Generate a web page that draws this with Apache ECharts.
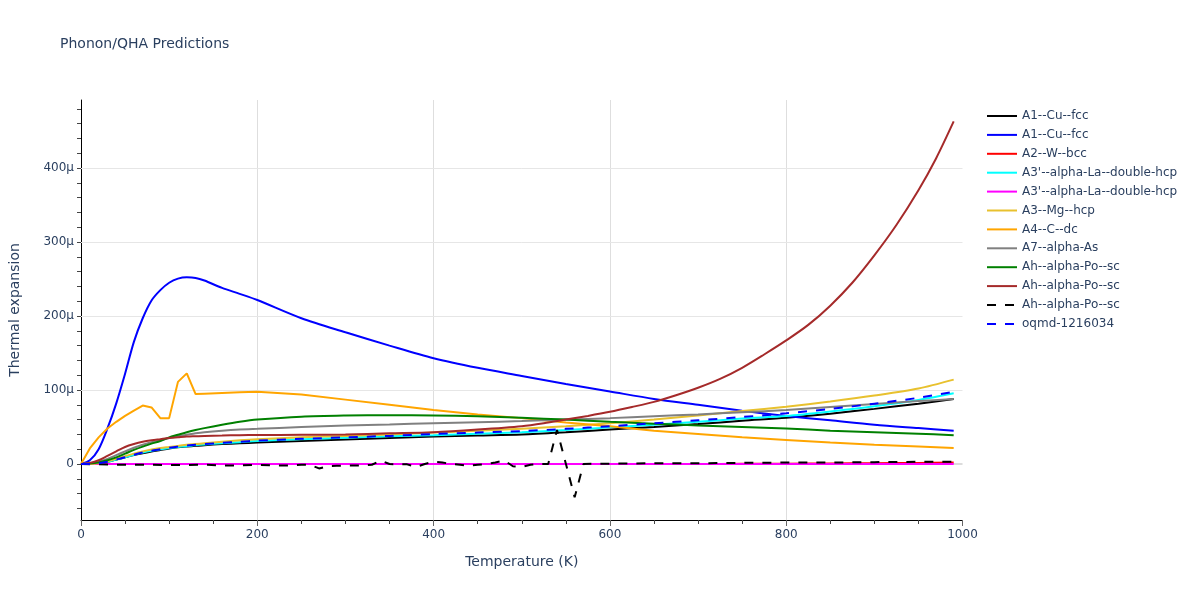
<!DOCTYPE html>
<html>
<head>
<meta charset="utf-8">
<script src="https://cdn.jsdelivr.net/npm/echarts@6/dist/echarts.min.js"></script>
<style>html,body{margin:0;padding:0;background:#fff}#c{width:1200px;height:600px}</style>
</head>
<body>
<div id="c"></div>
<script>
// Temperatures (K) shared by the smooth series
var T = [0,10,20,30,40,50,60,70,80,90,100,110,120,130,140,160,180,200,250,300,350,400,450,500,550,600,650,700,750,800,850,900,950,990];

// Thermal expansion values, in micro units (1e-6)
var cuFccBlack = [0,0,1,3,6,9,12,14.5,17,19,21,22.5,23.5,24.5,25.5,27,28,29,31,33,35,37,38.5,40,43,46.5,50,54,58.5,62.5,68,74.5,81.5,88];
var cuFccBlue  = [0,5,20,48,82,122,165,197,221,235,245,250.5,252.3,251.5,248,238,230,221.6,197,178,160,143,130,119,108,98,88,80,72,65,59,53,48.5,45];
var wBcc       = [0,0,0,0,0,0,0,0,0,0,0,0,0,0,0,0,0,0,0,0,0,0,0,0,0,0,0,0,0.3,0.5,0.8,1.1,1.5,1.9];
var laCyan     = [0,0,1,3,6,9,12.5,15.5,18,20,21.5,23,24,25.5,26.5,28,29.5,31,33.5,35.5,37.5,39,41,43,46,49.5,53,57,61.5,65,71,78,86.5,95.5];
var laMagenta  = [0,0,0,0,0,0,0,0,0,0,0,0,0,0,0,0,0,0,0,0,0,0,0,0,0,0,0,0,0,0,0,0,0,0];
var mgHcp      = [0,0,1,3.5,7,10.5,14,17,19.5,21.5,23,24.5,26,27,28,30,32,33.5,36,38,40,42.5,45,47.5,51,55,60,65.5,71.5,77.5,84.5,92.5,102,114];
var cDc        = [0,21,36,48,57,65,72,79,76.5,62,62,111,122.5,94.5,95,96,97,97.7,94,87,80,73,67,62,56,51,45,40.5,36,32.5,29,26,23.5,21.5];
var asGray     = [0,1,3,7,12,17,22,26,29.5,32,35,37.5,39.5,41.5,43,45,46.5,47.5,50,52,53.5,55,56.5,58,60,62,64.5,67,70,73,77,81,85,88];
var poGreen    = [0,0.5,2,5,9,14,19,23.5,27.5,31,36,39.5,43,46,48.5,53,57,60,64,65.5,66,65.5,64.5,62.5,60,57,54.5,52,50,48,45,43,41,39];
var oqmd       = [0,0,1,3,6,9,12.5,15.5,18,20,22,23.5,25,26,27,28.5,30,31.5,34,36,38,40.5,42.5,44.5,47.5,51,55,59,63.5,68.5,74.5,81.5,89.5,97.5];

// Brown series: finer temperature grid at high T
var Tbrown  = [0,10,20,30,40,50,60,70,80,90,100,110,120,130,140,160,180,200,250,300,350,400,450,500,525,550,575,600,625,650,675,700,725,750,775,800,825,850,875,900,925,950,970,990];
var poBrown = [0,1.5,5,11,17,23,27,30,32,33.5,35,36,37,37.5,38,38.5,39,39.2,39.5,40,41.5,43,46.5,51,55,60,65,70.5,77,84,93,103,115,130,148,167,188,214,245,282,323,370,413,463];

// Black dashed series has its own temperature grid
var Tdash = [0,20,40,60,80,100,120,140,160,180,200,220,240,250,260,270,280,290,300,310,320,330,340,350,360,370,380,390,400,410,420,430,440,450,460,470,480,490,500,510,520,530,540,560,570,580,600,650,700,750,800,850,900,950,990];
var poDash = [0,-0.5,-1,-1,-1,-1.5,-1.5,-1,-2,-2,-1,-2,-2,-1,-1,-6,-3,-2.5,-2,-2,-2,-1,4.5,0,-0.5,-0.5,-4,0,3,2,0,-1,-2.5,-1,0,2,5,-3,-4,-1,0,0,46,-45,0,0.5,0.5,1,1,1.5,2,2,2.5,3,3];

var names = ['A1--Cu--fcc','A1--Cu--fcc ','A2--W--bcc',"A3'--alpha-La--double-hcp","A3'--alpha-La--double-hcp ",'A3--Mg--hcp','A4--C--dc','A7--alpha-As','Ah--alpha-Po--sc','Ah--alpha-Po--sc ','Ah--alpha-Po--sc  ','oqmd-1216034'];
var colors = ['#000000','#0000ff','#ff0000','#00ffff','#ff00ff','#e8c12e','#ffa500','#808080','#008000','#a52a2a','#000000','#0000ff'];
var values = [cuFccBlack,cuFccBlue,wBcc,laCyan,laMagenta,mgHcp,cDc,asGray,poGreen,null,null,oqmd];

var yTicks = [-60,-40,-20,0,20,40,60,80,100,120,140,160,180,200,220,240,260,280,300,320,340,360,380,400,420,440,460,480];
var yLabels = [0,100,200,300,400];

function pairs(xs, ys){ return xs.map(function(x,i){ return [x, ys[i]]; }); }

var FONT = '"DejaVu Sans", Verdana, sans-serif';
var TXT = '#2a3f5f';

var series = [{
  name: '__grid', type: 'line', data: [], z: 1, silent: true,
  markLine: {
    silent: true, symbol: 'none', animation: false, z: 1,
    label: {show: false},
    lineStyle: {color: '#e6e6e6', width: 1, type: 'solid'},
    data: [{yAxis: 100},{yAxis: 200},{yAxis: 300},{yAxis: 400},{yAxis: 0, lineStyle: {color: '#dcdcdc', width: 2, type: 'solid'}}]
  }
}];
names.forEach(function(n, i){
  var dashed = (i === 10 || i === 11);
  var d;
  if (i === 10) d = pairs(Tdash, poDash);
  else if (i === 9) d = pairs(Tbrown, poBrown);
  else d = pairs(T, values[i]);
  series.push({
    name: n, type: 'line', data: d, symbol: 'none', showSymbol: false,
    smooth: (i === 6 || i === 10) ? false : 0.3,
    z: 2,
    lineStyle: {color: colors[i], width: 2, type: dashed ? [9, 9] : 'solid'},
    itemStyle: {color: colors[i]}
  });
});

var chart = echarts.init(document.getElementById('c'), null, {renderer: 'canvas'});
chart.setOption({
  animation: false,
  backgroundColor: '#fff',
  textStyle: {fontFamily: FONT},
  title: {text: 'Phonon/QHA Predictions', left: 55, top: 32,
    textStyle: {fontFamily: FONT, fontSize: 14, fontWeight: 'normal', color: TXT}},
  legend: {
    orient: 'vertical', left: 981, top: 105, itemWidth: 30, itemHeight: 14, itemGap: 6.9,
    data: names,
    itemStyle: {opacity: 0, borderWidth: 0},
    formatter: function(n){ return n.replace(/\s+$/, ''); },
    textStyle: {fontFamily: FONT, fontSize: 12, color: TXT}
  },
  grid: {left: 80, right: 237.5, top: 100, bottom: 80, containLabel: false},
  xAxis: {
    type: 'value', min: 0, max: 1000, interval: 200,
    name: 'Temperature (K)', nameLocation: 'middle', nameGap: 35,
    nameTextStyle: {fontFamily: FONT, fontSize: 14, color: TXT},
    axisLine: {onZero: false, lineStyle: {color: '#000', width: 1}},
    axisTick: {show: true, length: 6, lineStyle: {color: '#666'}},
    minorTick: {show: true, splitNumber: 4, length: 4, lineStyle: {color: '#444'}},
    axisLabel: {margin: 9, fontFamily: FONT, fontSize: 12, color: TXT,
      formatter: function(v){ return String(v); }},
    splitLine: {show: true, showMinLine: false, showMaxLine: false, lineStyle: {color: '#dedede', width: 1}}
  },
  yAxis: {
    type: 'value', min: -75.7, max: 492,
    name: 'Thermal expansion', nameLocation: 'middle', nameGap: 59,
    nameTextStyle: {fontFamily: FONT, fontSize: 14, color: TXT},
    axisLine: {show: true, onZero: false, lineStyle: {color: '#000', width: 1}},
    axisTick: {show: true, length: 4, customValues: yTicks, lineStyle: {color: '#444'}},
    axisLabel: {margin: 7, customValues: yLabels, fontFamily: FONT, fontSize: 12, color: TXT,
      formatter: function(v){ return v === 0 ? '0' : v + 'μ'; }},
    splitLine: {show: false}
  },
  series: series
});
</script>
</body>
</html>
